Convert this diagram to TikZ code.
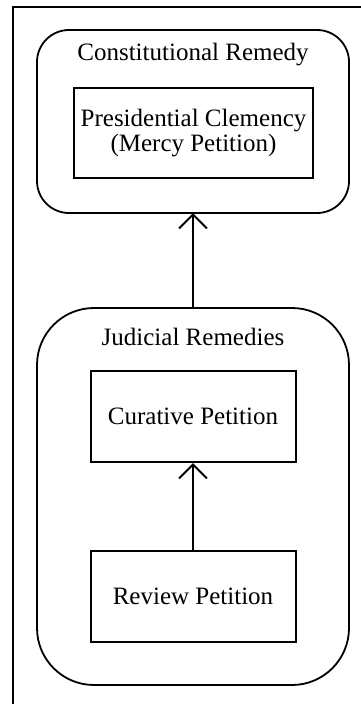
\documentclass[tikz,border=0pt]{standalone}
\usepackage{fontspec}
\setmainfont{Liberation Serif}
\usetikzlibrary{arrows.meta}
\begin{document}
\begin{tikzpicture}[x=1pt,y=-1pt,
  group/.style={draw, line width=1.8pt},
  item/.style={draw, line width=2pt, minimum width=205pt, minimum height=91pt, inner sep=0pt, align=center, font=\fontsize{25}{25.5}\selectfont},
  title/.style={font=\fontsize{25}{30}\selectfont, inner sep=0pt},
  link/.style={line width=2pt, -{Straight Barb[length=14pt,width=28pt,line width=2pt]}}
]
\useasboundingbox (0,0) rectangle (361,704);
% partial frame
\draw[line width=1.4pt] (13,704) -- (13,7) -- (361,7);

% constitutional group
\draw[group, rounded corners=32pt] (37,30) rectangle (349,213);
\node[title] (ctitle) at (193,55) {Constitutional Remedy};
\node[item, minimum width=239pt, minimum height=90pt] (clem) at (193.5,133) {Presidential Clemency\\[-1pt](Mercy Petition)};
\coordinate (ctop) at (193,213);

% judicial group
\draw[group, rounded corners=57pt] (37,308) rectangle (349,685);
\node[title] (jtitle) at (193,337) {Judicial Remedies};
\node[item] (cur) at (193,416.5) {Curative Petition};
\node[item] (rev) at (193,596.5) {Review Petition};
\coordinate (jtop) at (193,308);

\draw[link] (jtop) -- (ctop);
\draw[link] (rev.north) -- (cur.south);
\end{tikzpicture}
\end{document}
